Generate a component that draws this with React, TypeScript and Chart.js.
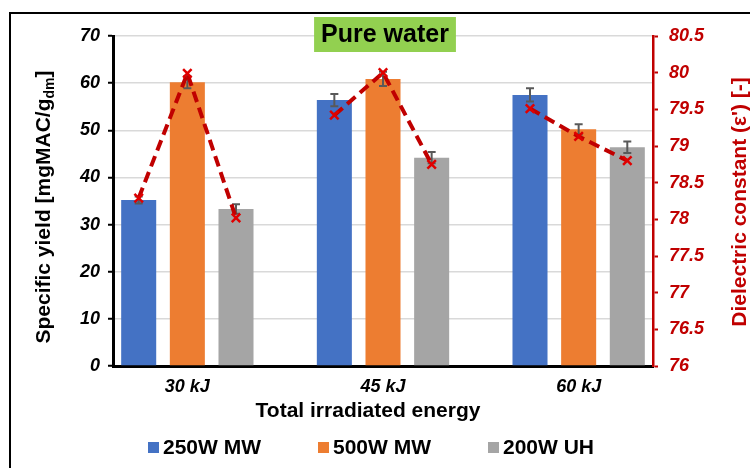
import React, { useEffect, useRef } from 'react';
import { Chart, registerables } from 'chart.js';

Chart.register(...registerables);

// ---------------- data ----------------
const categories = ['30 kJ', '45 kJ', '60 kJ'];
const seriesNames = ['250W MW', '500W MW', '200W UH'];
const yield250 = [35.2, 56.4, 57.5];
const yield500 = [60.2, 60.9, 50.2];
const yield200 = [33.3, 44.2, 46.4];
const err250 = [0.75, 1.3, 1.4];
const err500 = [1.3, 1.5, 1.1];
const err200 = [1.0, 1.2, 1.2];
const dielectric250 = [78.29, 79.42, 79.51];
const dielectric500 = [79.99, 80.0, 79.13];
const dielectric200 = [78.02, 78.75, 78.8];
const chartTitle = 'Pure water';
const xTitle = 'Total irradiated energy';
const yTitleMain = 'Specific yield [mgMAC/g';
const yTitleSub = 'dm';
const yTitleEnd = ']';
const y2Title = "Dielectric constant (\u03b5') [-]";

// ---------------- styles ----------------
const FONT = "'Liberation Sans', Arial, sans-serif";
const colors = ['#4472C4', '#ED7D31', '#A5A5A5'];
const RED = '#C00000';
const CAT_PCT = 0.746;
const BAR_PCT = 0.72;
const SLOT = CAT_PCT / 3;

const yieldSeries = [yield250, yield500, yield200];
const errSeries = [err250, err500, err200];
const dielSeries = [dielectric250, dielectric500, dielectric200];

const errorBarPlugin = {
  id: 'errorBars',
  afterDatasetDraw(chart: any, args: any) {
    const ds: any = chart.data.datasets[args.index];
    if (!ds.errors) return;
    const ctx = chart.ctx;
    const ys = chart.scales.y;
    ctx.save();
    ctx.strokeStyle = '#595959';
    ctx.lineWidth = 2;
    args.meta.data.forEach((el: any, i: number) => {
      const v = ds.data[i].y;
      const e = ds.errors[i];
      const x = el.x;
      const yt = ys.getPixelForValue(v + e);
      const yb = ys.getPixelForValue(v - e);
      ctx.beginPath();
      ctx.moveTo(x, yt);
      ctx.lineTo(x, yb);
      ctx.moveTo(x - 4, yt);
      ctx.lineTo(x + 4, yt);
      ctx.moveTo(x - 4, yb);
      ctx.lineTo(x + 4, yb);
      ctx.stroke();
    });
    ctx.restore();
  },
};

const decorPlugin = {
  id: 'decor',
  afterDraw(chart: any) {
    const ctx = chart.ctx;
    const area = chart.chartArea;
    ctx.save();
    // outer frame
    ctx.strokeStyle = '#000';
    ctx.lineWidth = 2;
    ctx.strokeRect(10, 13, 800, 600);

    // title box
    ctx.font = `bold 25px ${FONT}`;
    const tw = ctx.measureText(chartTitle).width;
    const cx = 385;
    ctx.fillStyle = '#92D050';
    ctx.fillRect(cx - tw / 2 - 7, 17, tw + 14, 35);
    ctx.fillStyle = '#000';
    ctx.textAlign = 'center';
    ctx.textBaseline = 'middle';
    ctx.fillText(chartTitle, cx, 35);

    // left axis title (rotated, with subscript)
    ctx.save();
    ctx.translate(43, (area.top + area.bottom) / 2 + 6);
    ctx.rotate(-Math.PI / 2);
    const mainFont = `bold 21px ${FONT}`;
    const subFont = `bold 14px ${FONT}`;
    ctx.font = mainFont;
    const w1 = ctx.measureText(yTitleMain).width;
    const w3 = ctx.measureText(yTitleEnd).width;
    ctx.font = subFont;
    const w2 = ctx.measureText(yTitleSub).width;
    const total = w1 + w2 + w3;
    let px = -total / 2;
    ctx.textAlign = 'left';
    ctx.textBaseline = 'alphabetic';
    ctx.fillStyle = '#000';
    ctx.font = mainFont;
    ctx.fillText(yTitleMain, px, 7);
    px += w1;
    ctx.font = subFont;
    ctx.fillText(yTitleSub, px, 11);
    px += w2;
    ctx.font = mainFont;
    ctx.fillText(yTitleEnd, px, 7);
    ctx.restore();

    // right axis title
    ctx.save();
    ctx.translate(740, (area.top + area.bottom) / 2 + 1);
    ctx.rotate(-Math.PI / 2);
    ctx.font = `bold 21px ${FONT}`;
    ctx.fillStyle = RED;
    ctx.textAlign = 'center';
    ctx.textBaseline = 'middle';
    ctx.fillText(y2Title, 0, 0);
    ctx.restore();

    // x title
    ctx.font = `bold 21px ${FONT}`;
    ctx.fillStyle = '#000';
    ctx.textAlign = 'center';
    ctx.textBaseline = 'middle';
    ctx.fillText(xTitle, 368, 411);

    // legend
    const starts = [148, 318, 488];
    ctx.font = `bold 21px ${FONT}`;
    ctx.textAlign = 'left';
    seriesNames.forEach((name, i) => {
      ctx.fillStyle = colors[i];
      ctx.fillRect(starts[i], 442, 11, 11);
      ctx.fillStyle = '#000';
      ctx.fillText(name, starts[i] + 15, 448);
    });
    ctx.restore();
  },
};

export default function App() {
  const ref = useRef<HTMLCanvasElement | null>(null);

  useEffect(() => {
    if (!ref.current) return;

    const barDatasets = yieldSeries.map((arr, s) => ({
      type: 'bar' as const,
      label: seriesNames[s],
      data: arr.map((v, g) => ({ x: g, y: v })),
      errors: errSeries[s],
      backgroundColor: colors[s],
      borderWidth: 0,
      categoryPercentage: CAT_PCT,
      barPercentage: BAR_PCT,
      xAxisID: 'x',
      yAxisID: 'y',
      order: 1,
    }));

    const dielPoints: any[] = [];
    categories.forEach((_, g) => {
      dielSeries.forEach((arr, s) => {
        dielPoints.push({ x: g + (s - 1) * SLOT, y: arr[g] });
      });
      if (g < categories.length - 1) dielPoints.push({ x: g + 0.5, y: null });
    });

    const chart = new Chart(ref.current, {
      type: 'bar',
      data: {
        datasets: [
          ...barDatasets,
          {
            type: 'line' as const,
            label: 'Dielectric constant',
            data: dielPoints,
            borderColor: RED,
            borderWidth: 4,
            borderDash: [11, 6],
            borderCapStyle: 'butt',
            spanGaps: false,
            tension: 0,
            pointStyle: 'crossRot',
            pointRadius: 6,
            pointBorderWidth: 2.5,
            pointBorderColor: '#E00000',
            pointBackgroundColor: '#E00000',
            xAxisID: 'x',
            yAxisID: 'y2',
            order: 0,
          } as any,
        ],
      },
      options: {
        animation: false,
        responsive: false,
        devicePixelRatio: 1,
        events: [],
        layout: { padding: { top: 36, left: 0, right: 0, bottom: 0 } },
        plugins: {
          legend: { display: false },
          title: { display: false },
          tooltip: { enabled: false },
        },
        scales: {
          x: {
            type: 'linear',
            position: 'bottom',
            offset: false,
            min: -0.38,
            max: 2.38,
            afterFit: (s: any) => {
              s.height = 102;
            },
            ticks: {
              stepSize: 1,
              includeBounds: false,
              autoSkip: false,
              maxRotation: 0,
              padding: 10,
              color: '#000',
              font: { family: FONT, size: 18, weight: 'bold', style: 'italic' },
              callback: (v: any) => {
                const i = Math.round(Number(v));
                return Math.abs(Number(v) - i) < 1e-6 && categories[i] ? categories[i] : '';
              },
            },
            grid: { display: true, drawOnChartArea: false, drawTicks: false, offset: false },
            border: { display: true, color: '#000', width: 3 },
          },
          y: {
            type: 'linear',
            position: 'left',
            min: 0,
            max: 70,
            afterFit: (s: any) => {
              s.width = 113;
            },
            ticks: {
              stepSize: 10,
              padding: 8,
              color: '#000',
              font: { family: FONT, size: 18, weight: 'bold', style: 'italic' },
            },
            grid: {
              color: '#D9D9D9',
              lineWidth: 1.5,
              tickColor: '#000',
              tickLength: 5,
              tickWidth: 2,
            },
            border: { display: true, color: '#000', width: 3 },
          },
          y2: {
            type: 'linear',
            position: 'right',
            min: 76,
            max: 80.5,
            afterFit: (s: any) => {
              s.width = 97;
            },
            ticks: {
              stepSize: 0.5,
              padding: 11,
              color: RED,
              font: { family: FONT, size: 18, weight: 'bold', style: 'italic' },
              callback: (v: any) => String(Math.round(Number(v) * 10) / 10),
            },
            grid: {
              drawOnChartArea: false,
              tickColor: RED,
              tickLength: 5,
              tickWidth: 2,
            },
            border: { display: true, color: RED, width: 2.5 },
          },
        },
      } as any,
      plugins: [errorBarPlugin, decorPlugin],
    });

    return () => chart.destroy();
  }, []);

  return (
    <div style={{ position: 'fixed', left: 0, top: 0, width: 750, height: 468, background: '#fff' }}>
      <canvas ref={ref} width={750} height={468} style={{ display: 'block', width: 750, height: 468 }} />
    </div>
  );
}
